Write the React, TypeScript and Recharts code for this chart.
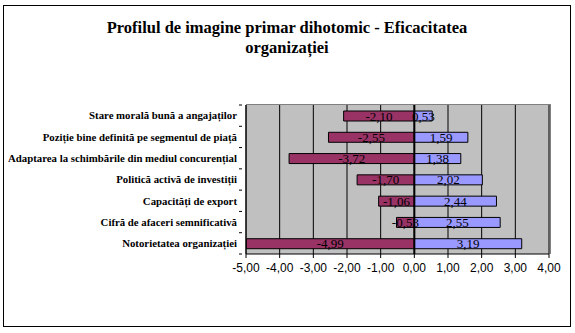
import React from 'react';
import { BarChart, Bar, XAxis, YAxis, CartesianGrid, LabelList, ReferenceLine } from 'recharts';

const categories = [
  'Stare morală bună a angajaților',
  'Poziție bine definită pe segmentul de piață',
  'Adaptarea la schimbările din mediul concurențial',
  'Politică activă de investiții',
  'Capacități de export',
  'Cifră de afaceri semnificativă',
  'Notorietatea organizației',
];
const negativeValues = [-2.1, -2.55, -3.72, -1.7, -1.06, -0.53, -4.99];
const positiveValues = [0.53, 1.59, 1.38, 2.02, 2.44, 2.55, 3.19];
const xTicks = [-5, -4, -3, -2, -1, 0, 1, 2, 3, 4];
const titleLines = ['Profilul de imagine primar dihotomic - Eficacitatea', 'organizației'];

const data = categories.map((name, i) => ({ name, neg: negativeValues[i], pos: positiveValues[i] }));

const fmt = (v: any) => Number(v).toFixed(2).replace('.', ',');

const W = 575;
const H = 333;
const PLOT_LEFT = 246;
const PLOT_RIGHT = 549;
const PLOT_TOP = 105;
const PLOT_BOTTOM = 254;
const YAXIS_W = 240;
const XAXIS_H = 30;
const band = (PLOT_BOTTOM - PLOT_TOP) / categories.length;

const serif = '"Liberation Serif", "Times New Roman", serif';
const sans = '"Liberation Sans", Arial, sans-serif';

const YTick = (props: any) => {
  const { x, y, payload, index } = props;
  return (
    <g>
      <line x1={x + 1} x2={x + 4} y1={y - band / 2} y2={y - band / 2} stroke="#000" />
      {index === categories.length - 1 && (
        <line x1={x + 1} x2={x + 4} y1={y + band / 2} y2={y + band / 2} stroke="#000" />
      )}
      <text
        x={x - 1}
        y={y}
        dy="0.35em"
        textAnchor="end"
        fontFamily={serif}
        fontWeight="bold"
        fontSize={10.8}
        fill="#000"
      >
        {payload.value}
      </text>
    </g>
  );
};

export default function App() {
  return (
    <div style={{ position: 'fixed', left: 0, top: 0, width: W, height: H, background: '#fff' }}>
      <div
        style={{
          position: 'absolute',
          left: 3,
          top: 5,
          width: 568,
          height: 322,
          border: '1px solid #000',
          boxSizing: 'border-box',
        }}
      />
      <div
        style={{
          position: 'absolute',
          left: PLOT_LEFT,
          top: 104,
          width: 305,
          height: 150,
          background: '#C0C0C0',
          borderTop: '1px solid #808080',
          borderRight: '1px solid #808080',
          boxSizing: 'border-box',
        }}
      />
      <svg width={W} height={70} style={{ position: 'absolute', left: 0, top: 0 }}>
        <text x={287} y={33} textAnchor="middle" fontFamily={serif} fontWeight="bold" fontSize={16.5} fill="#000">
          {titleLines[0]}
        </text>
        <text x={287} y={53} textAnchor="middle" fontFamily={serif} fontWeight="bold" fontSize={16.5} fill="#000">
          {titleLines[1]}
        </text>
      </svg>
      <div style={{ position: 'absolute', left: 0, top: 0 }}>
        <BarChart
          width={W}
          height={H}
          data={data}
          layout="vertical"
          stackOffset="sign"
          barSize={10}
          margin={{
            top: PLOT_TOP,
            bottom: H - PLOT_BOTTOM - XAXIS_H,
            left: PLOT_LEFT - YAXIS_W,
            right: W - PLOT_RIGHT,
          }}
        >
          <CartesianGrid horizontal={false} vertical={true} stroke="#000" strokeOpacity={1} fill="none" />
          <XAxis
            type="number"
            domain={[-5, 4]}
            ticks={xTicks}
            tickFormatter={fmt}
            height={XAXIS_H}
            axisLine={{ stroke: '#000' }}
            tickLine={{ stroke: '#000' }}
            tickSize={4}
            tickMargin={5}
            interval={0}
            tick={{ fontFamily: sans, fontSize: 12, fill: '#000' }}
            allowDataOverflow
          />
          <YAxis
            type="category"
            dataKey="name"
            width={YAXIS_W}
            axisLine={{ stroke: '#000' }}
            tickLine={false}
            tick={<YTick />}
            interval={0}
          />
          <ReferenceLine x={0} stroke="#000" strokeWidth={2} />
          <Bar dataKey="neg" stackId="a" fill="#993366" stroke="#000" strokeWidth={1} isAnimationActive={false}>
            <LabelList
              dataKey="neg"
              position="center"
              formatter={fmt}
              style={{ fontFamily: serif, fontSize: 13, fill: '#000' }}
            />
          </Bar>
          <Bar dataKey="pos" stackId="a" fill="#9999FF" stroke="#000" strokeWidth={1} isAnimationActive={false}>
            <LabelList
              dataKey="pos"
              position="center"
              formatter={fmt}
              style={{ fontFamily: serif, fontSize: 13, fill: '#000' }}
            />
          </Bar>
        </BarChart>
      </div>
    </div>
  );
}
